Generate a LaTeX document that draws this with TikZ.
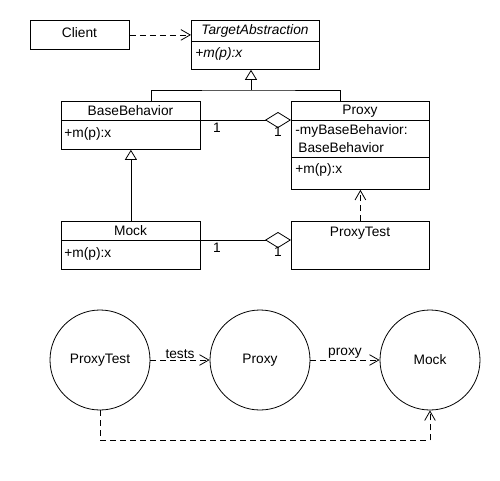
\documentclass[tikz,border=0pt]{standalone}
\usepackage{fontspec}
\setmainfont{Liberation Sans}
\usetikzlibrary{arrows.meta,calc}
\begin{document}
\begin{tikzpicture}[x=0.75pt,y=-0.75pt,
  font=\fontsize{10.3}{12}\selectfont,
  line width=0.6pt,
  box/.style={draw,rectangle,inner sep=0pt,anchor=north west},
  circ/.style={draw,circle,minimum size=75pt,inner sep=0pt},
  lbl/.style={inner sep=0pt},
  dsh/.style={dash pattern=on 4.5pt off 3pt},
  barb/.style={-{Straight Barb[length=7pt,width=8pt]}},
  gen/.style={-{Triangle[open,length=7.5pt,width=9pt,fill=white]}},
  agg/.style={{Diamond[open,length=19.5pt,width=12pt,fill=white]}-}]
\useasboundingbox (0,0) rectangle (500,480);
% class boxes
\node[box,minimum width=74.25pt,minimum height=21.75pt] (client) at (30,20) {};
\node[lbl] (clientt) at (79.5,33) {Client};
\node[box,minimum width=96pt,minimum height=36.75pt] (ta) at (191,20) {};
\node[lbl] (tat) at (255,31) {\itshape TargetAbstraction};
\draw (191,41) -- (319,41);
\node[lbl,anchor=west] (tam) at (195,54) {\itshape +m(p):x};

\node[box,minimum width=104.25pt,minimum height=36pt] (base) at (61,101) {};
\node[lbl] (baset) at (130.5,111) {BaseBehavior};
\draw (61,120) -- (200,120);
\node[lbl,anchor=west] (basem) at (64,134) {+m(p):x};

\node[box,minimum width=103.5pt,minimum height=66pt] (proxy) at (291,101) {};
\node[lbl] (proxyt) at (360,111) {Proxy};
\draw (291,120) -- (429,120);
\node[lbl,anchor=west] (proxya) at (295,131) {-myBaseBehavior:};
\node[lbl,anchor=west] (proxyb) at (298,148) {BaseBehavior};
\draw (291,157) -- (429,157);
\node[lbl,anchor=west] (proxym) at (295,170) {+m(p):x};

\node[box,minimum width=104.25pt,minimum height=36pt] (mock) at (61,221) {};
\node[lbl] (mockt) at (130.5,231) {Mock};
\draw (61,240) -- (200,240);
\node[lbl,anchor=west] (mockm) at (64,254) {+m(p):x};

\node[box,minimum width=103.5pt,minimum height=36pt] (ptest) at (291,221) {};
\node[lbl] (ptestt) at (360,233) {ProxyTest};

% connectors
\draw[barb,dsh] (client.east) -- (client.east -| ta.west);
\coordinate (j) at (251,90);
\draw ([xshift=15pt]base.north) |- (j) -| ([xshift=-15pt]proxy.north);
\draw[gen] (j) -- (j |- ta.south);
\draw[gen] (mock.north) -- (base.south);
\coordinate (bd) at (200,120);
\draw[agg] (bd -| proxy.west) -- (bd);
\coordinate (md) at (200,240);
\draw[agg] (md -| ptest.west) -- (md);
\node[lbl] (one1) at (217,128) {1};
\node[lbl] (one2) at (278,132) {1};
\node[lbl] (one3) at (217,248) {1};
\node[lbl] (one4) at (278,252) {1};
\draw[barb,dsh] (ptest.north) -- (proxy.south);

% circles
\node[circ] (cpt) at (100,360) {ProxyTest};
\node[circ] (cpx) at (260,360) {Proxy};
\node[circ] (cmk) at (430,360) {Mock};
\draw[barb,dsh] (cpt) -- node[lbl,above=1pt] {tests} (cpx);
\draw[barb,dsh] (cpx) -- node[lbl,above=1pt] {proxy} (cmk);
\draw[barb,dsh] (cpt.south) -- ++(0,30) -| (cmk.south);
\end{tikzpicture}
\end{document}
